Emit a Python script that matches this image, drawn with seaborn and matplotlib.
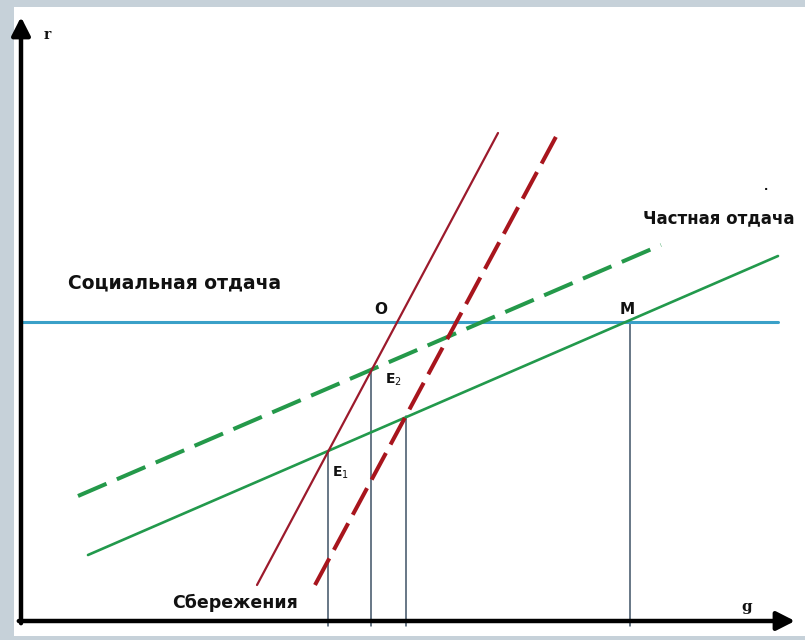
import matplotlib
matplotlib.use("Agg")
import matplotlib.pyplot as plt
import seaborn as sns
import pandas as pd

# ---- data (g, r) ----
savings1_g = [23.6, 47.7]
savings1_r = [3.6, 48.8]
savings2_g = [29.4, 53.7]
savings2_r = [3.6, 48.8]
private1_g = [6.7, 75.7]
private1_r = [6.6, 36.5]
private2_g = [5.7, 64.0]
private2_r = [12.5, 37.6]
social_g = [0.0, 75.7]
social_r = [29.9, 29.9]

# equilibrium points: E1, E2, E3 (S2 x private), M
eq_names = ["E1", "E2", "E3", "M"]
eq_g = [30.7, 35.0, 38.5, 60.9]
eq_r = [17.0, 25.2, 20.5, 29.9]

sns.set_theme(style="white")
plt.rcParams["font.family"] = ["DejaVu Sans"]

fig = plt.figure(figsize=(8.05, 6.4), dpi=100, facecolor="#c6d1d9")
ax = fig.add_axes([14 / 805, 4 / 640, 791 / 805, 629 / 640])
ax.set_facecolor("white")
ax.set_xlim(-0.7, 78.4)
ax.set_ylim(-1.5, 61.4)
for s in ax.spines.values():
    s.set_visible(False)
ax.set_xticks([])
ax.set_yticks([])

def seg(g, r):
    return pd.DataFrame({"g": g, "r": r})

# drop lines
for gx, ry in zip(eq_g, eq_r):
    sns.lineplot(data=seg([gx, gx], [-0.5, ry]), x="g", y="r", ax=ax,
                 color="#3e5266", linewidth=1.1, sort=False, estimator=None)

# social return
sns.lineplot(data=seg(social_g, social_r), x="g", y="r", ax=ax,
             color="#3aa0c8", linewidth=2.2, sort=False, estimator=None)
# private returns
sns.lineplot(data=seg(private1_g, private1_r), x="g", y="r", ax=ax,
             color="#22994c", linewidth=1.9, sort=False, estimator=None)
l = sns.lineplot(data=seg(private2_g, private2_r), x="g", y="r", ax=ax,
                 color="#24994a", linewidth=2.9, sort=False, estimator=None)
l.lines[-1].set_dashes((7.7, 2.8))
# savings
sns.lineplot(data=seg(savings1_g, savings1_r), x="g", y="r", ax=ax,
             color="#9c1a2c", linewidth=1.6, sort=False, estimator=None)
l = sns.lineplot(data=seg(savings2_g, savings2_r), x="g", y="r", ax=ax,
                 color="#a8151d", linewidth=2.9, sort=False, estimator=None)
l.lines[-1].set_dashes((7.5, 2.4))

# axes arrows
arrow = dict(arrowstyle="-|>,head_length=0.55,head_width=0.28", lw=3.2,
             color="black", shrinkA=0, shrinkB=0, mutation_scale=20)
ax.annotate("", xy=(0, 60.4), xytext=(0, -0.22), arrowprops=arrow)
ax.annotate("", xy=(77.4, 0), xytext=(-0.22, 0), arrowprops=arrow)

# texts
tk = dict(color="#111111", fontweight="bold")
ax.text(2.6, 58.6, "r", fontsize=10, family="DejaVu Serif", ha="center", va="center", **tk)
ax.text(72.6, 1.4, "g", fontsize=11, family="DejaVu Serif", ha="center", va="center", **tk)
ax.text(4.7, 33.8, "Социальная отдача", fontsize=13.5, ha="left", va="center", **tk)
ax.text(62.2, 40.3, "Частная отдача", fontsize=12, ha="left", va="center", **tk)
ax.text(15.1, 1.8, "Сбережения", fontsize=12.5, ha="left", va="center", **tk)
ax.text(36.0, 31.1, "O", fontsize=11, ha="center", va="center", **tk)
ax.text(60.6, 31.2, "M", fontsize=11, ha="center", va="center", **tk)
ax.text(31.1, 14.8, "E$_1$", fontsize=10, ha="left", va="center", **tk)
ax.text(36.4, 24.1, "E$_2$", fontsize=10, ha="left", va="center", **tk)
ax.text(74.5, 43.4, ".", fontsize=8, ha="center", va="center", **tk)

fig.savefig("out.png", dpi=100, facecolor=fig.get_facecolor())
